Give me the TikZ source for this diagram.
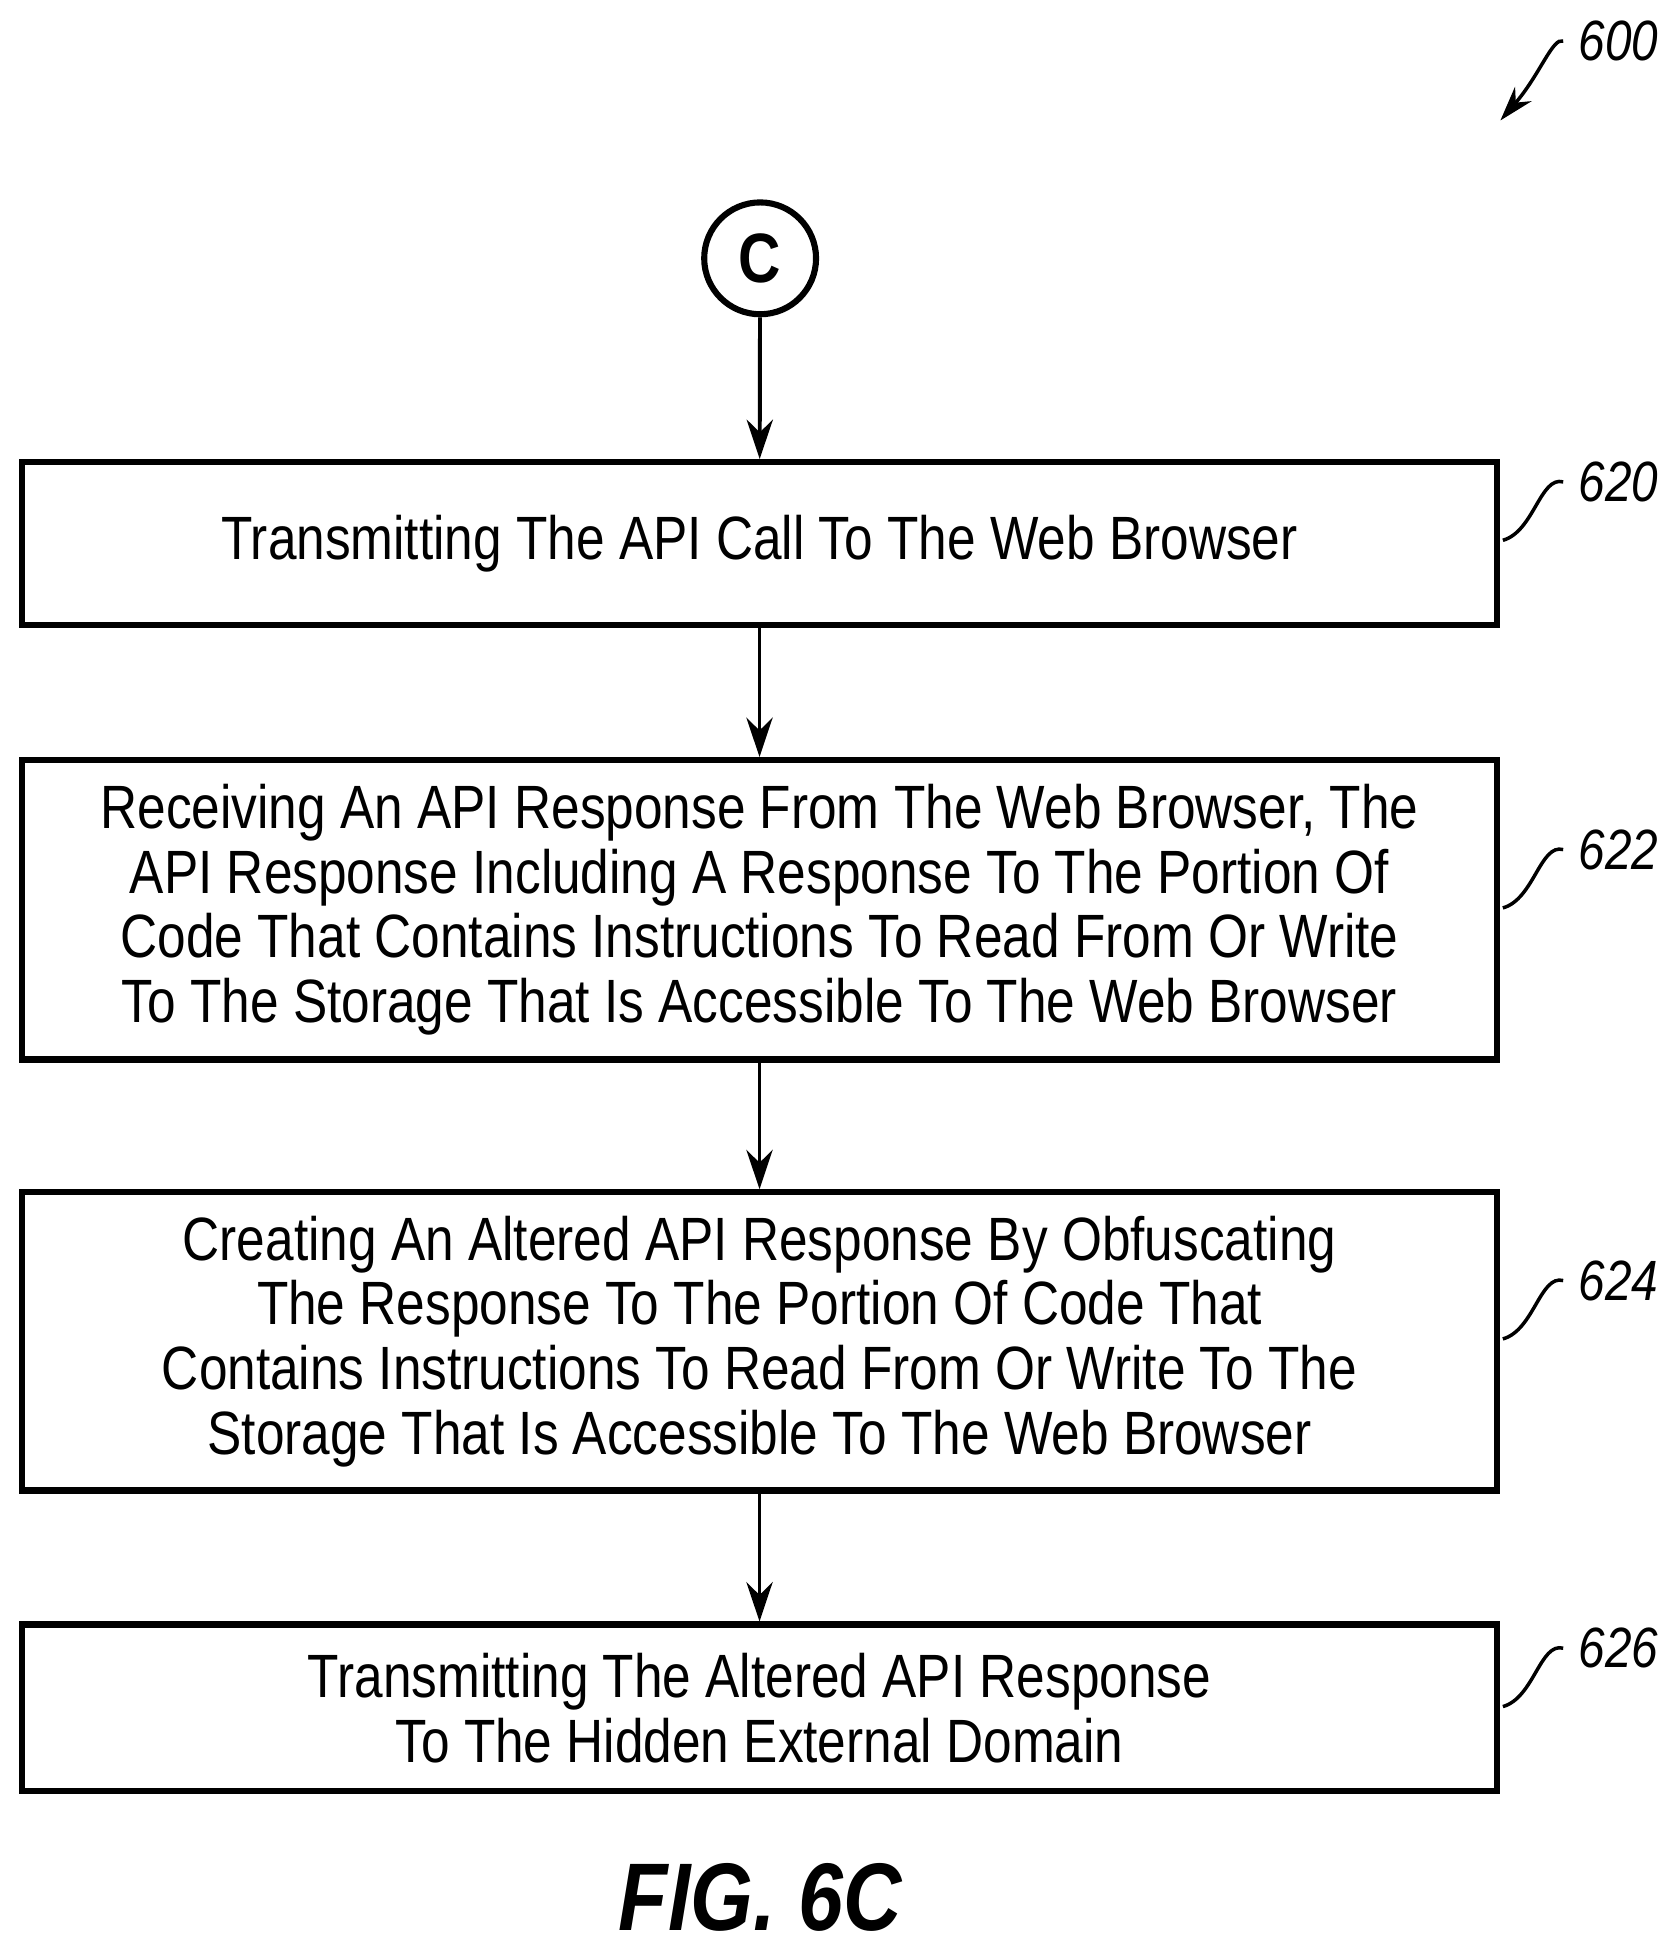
\documentclass[tikz,border=0pt]{standalone}
\usepackage{fontspec}
\setmainfont{Liberation Sans}[FakeStretch=0.84]
\usetikzlibrary{positioning,arrows.meta}
\begin{document}
\begin{tikzpicture}[x=0.01cm,y=-0.01cm,
    procbox/.style={draw,line width=1.4pt,minimum width=11.87cm,align=center,
      font=\fontsize{14pt}{14.8pt}\selectfont,inner sep=0pt},
    flow/.style={-{Stealth[length=9pt,width=6pt]},line width=0.9pt},
    ref/.style={font=\itshape\fontsize{13pt}{14pt}\selectfont}]
  \useasboundingbox (0,0) rectangle (1350,1570);

  % connector and steps
  \node[circle,draw,line width=1.4pt,minimum size=0.9cm,inner sep=0pt,
    font=\bfseries\fontsize{16pt}{16pt}\selectfont] (c) at (612,208) {C};
  \node[procbox,minimum height=1.31cm] (s620) at (611.5,437.5)
    {Transmitting The API Call To The Web Browser};
  \node[procbox,minimum height=2.41cm] (s622) at (611.5,732.5)
    {Receiving An API Response From The Web Browser, The\\
     API Response Including A Response To The Portion Of\\
     Code That Contains Instructions To Read From Or Write\\
     To The Storage That Is Accessible To The Web Browser};
  \node[procbox,minimum height=2.40cm] (s624) at (611.5,1080)
    {Creating An Altered API Response By Obfuscating\\
     The Response To The Portion Of Code That\\
     Contains Instructions To Read From Or Write To The\\
     Storage That Is Accessible To The Web Browser};
  \node[procbox,minimum height=1.34cm] (s626) at (611.5,1375)
    {Transmitting The Altered API Response\\To The Hidden External Domain};

  \draw[flow] (c) -- (s620);
  \draw[flow] (s620) -- (s622);
  \draw[flow] (s622) -- (s624);
  \draw[flow] (s624) -- (s626);

  % reference numerals
  \foreach \n/\y in {620/388,622/684,624/1031,626/1327}{
    \node[ref] (l\n) at (1303,\y) {\n};
    \draw[line width=0.8pt] (1210,\y+47) .. controls (1235,\y+40) and (1240,\y-5) .. (l\n.west);
  }
  \node[ref] (l600) at (1303,33) {600};
  \draw[line width=0.8pt,-{Stealth[length=8pt,width=5pt]}]
    (l600.west) .. controls (1250,30) and (1240,60) .. (1208,97);

  \node[font=\bfseries\itshape\fontsize{22pt}{22pt}\selectfont] (fig) at (612,1528) {FIG. 6C};
\end{tikzpicture}
\end{document}
